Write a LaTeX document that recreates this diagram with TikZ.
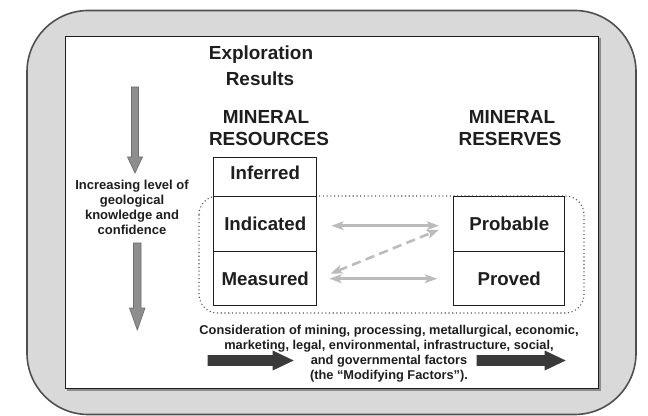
\documentclass[tikz,border=0pt]{standalone}
\usepackage{fontspec}
\setmainfont{Liberation Sans}
\usetikzlibrary{arrows.meta,calc}
\definecolor{panel}{HTML}{D9D9D9}
\definecolor{rim}{HTML}{505050}
\definecolor{pale}{HTML}{BBBBBB}
\definecolor{shaftgray}{HTML}{8E8E8E}
\definecolor{shaftrim}{HTML}{6E6E6E}
\definecolor{darkarrow}{HTML}{3A3A3A}
\definecolor{ink}{HTML}{1E1E1E}
\begin{document}
\begin{tikzpicture}[x=0.75pt,y=-0.75pt,
  heading/.style={font=\fontsize{14.2}{17}\selectfont\bfseries, inner sep=0, text=ink},
  note/.style={font=\fontsize{9.6}{11.25}\selectfont\bfseries, align=center, inner sep=0, text=ink},
  sidenote/.style={font=\fontsize{9.75}{11.25}\selectfont\bfseries, align=center, inner sep=0, text=ink},
  cell/.style={draw=ink, line width=1.1pt, fill=white, inner sep=0,
    font=\fontsize{14}{17}\selectfont\bfseries, text=ink, minimum width=77.25pt},
  link/.style={draw=pale, line width=1.9pt,
    {Stealth[length=9pt,width=6.5pt,inset=2pt]}-{Stealth[length=9pt,width=6.5pt,inset=2pt]}},
  bigarrow/.style={fill=shaftgray, draw=shaftrim, line width=0.5pt},
  factorarrow/.style={fill=darkarrow, draw=darkarrow, line width=0.4pt}]

\useasboundingbox (0,0) rectangle (648,416);

% outer rounded panel and the white sheet on it
\draw[fill=panel, draw=rim, line width=1.2pt, rounded corners=46pt] (27,10.5) rectangle (636,414.5);
\draw[draw=black!45, line width=1pt] (600,38.5) -- (600,390) -- (67,390);
\draw[fill=white, draw=ink, line width=1.2pt] (65.5,36.5) rectangle (598.5,388.5);

% headings
\node[heading] (expl) at (261,55) {Exploration};
\node[heading] (res) at (260,79) {Results};
\node[heading] (minres) at (266,117) {MINERAL};
\node[heading] (resources) at (269,139) {RESOURCES};
\node[heading] (minrsv) at (512,117) {MINERAL};
\node[heading] (reserves) at (510,139) {RESERVES};

% dotted envelope around the convertible categories
\draw[draw=rim, dotted, line width=0.8pt, rounded corners=14pt] (199,196) rectangle (584,313);

% resource categories
\node[cell, anchor=north west, minimum height=29.25pt, text depth=6pt] (inferred) at (213,157) {Inferred};
\node[cell, anchor=north west, minimum height=41.25pt] (indicated) at (213,196) {Indicated};
\node[cell, anchor=north west, minimum height=40.5pt] (measured) at (213,251) {Measured};

% reserve categories
\node[cell, anchor=north west, minimum width=83.25pt, minimum height=41.25pt] (probable) at (453,196) {Probable};
\node[cell, anchor=north west, minimum width=83.25pt, minimum height=40.5pt] (proved) at (453,251) {Proved};

% conversions between resources and reserves
\draw[link] ($(indicated.east)+(14,1.5)$) -- ($(probable.west)+(-14,1.5)$);
\draw[link] ($(measured.east)+(12,0)$) -- ($(proved.west)+(-16,0)$);
\draw[link, dash pattern=on 7pt off 4pt] ($(measured.east)+(13,-5)$) -- ($(probable.west)+(-14,5.5)$);

% confidence scale on the left
\node[sidenote] (confidence) at (132,207) {Increasing level of\\geological\\knowledge and\\confidence};
\draw[bigarrow] (131.5,87) -- (138.5,87) -- (138.5,157) -- (142.5,157) -- (135,173)
  -- (127.5,157) -- (131.5,157) -- cycle;
\draw[bigarrow] (133.5,243) -- (141,243) -- (141,308) -- (145,308) -- (137.3,330)
  -- (129.5,308) -- (133.5,308) -- cycle;

% modifying factors
\node[note] (factors) at (389,354) {Consideration of mining, processing, metallurgical, economic,\\
  marketing, legal, environmental, infrastructure, social,\\
  and governmental factors\\
  (the “Modifying Factors").};
\draw[factorarrow] (208,355.5) -- (273,355.5) -- (273,351) -- (293,360.5) -- (273,370)
  -- (273,365.5) -- (208,365.5) -- cycle;
\draw[factorarrow] (477,355.5) -- (545,355.5) -- (545,351) -- (565,360.5) -- (545,370)
  -- (545,365.5) -- (477,365.5) -- cycle;
\end{tikzpicture}
\end{document}
